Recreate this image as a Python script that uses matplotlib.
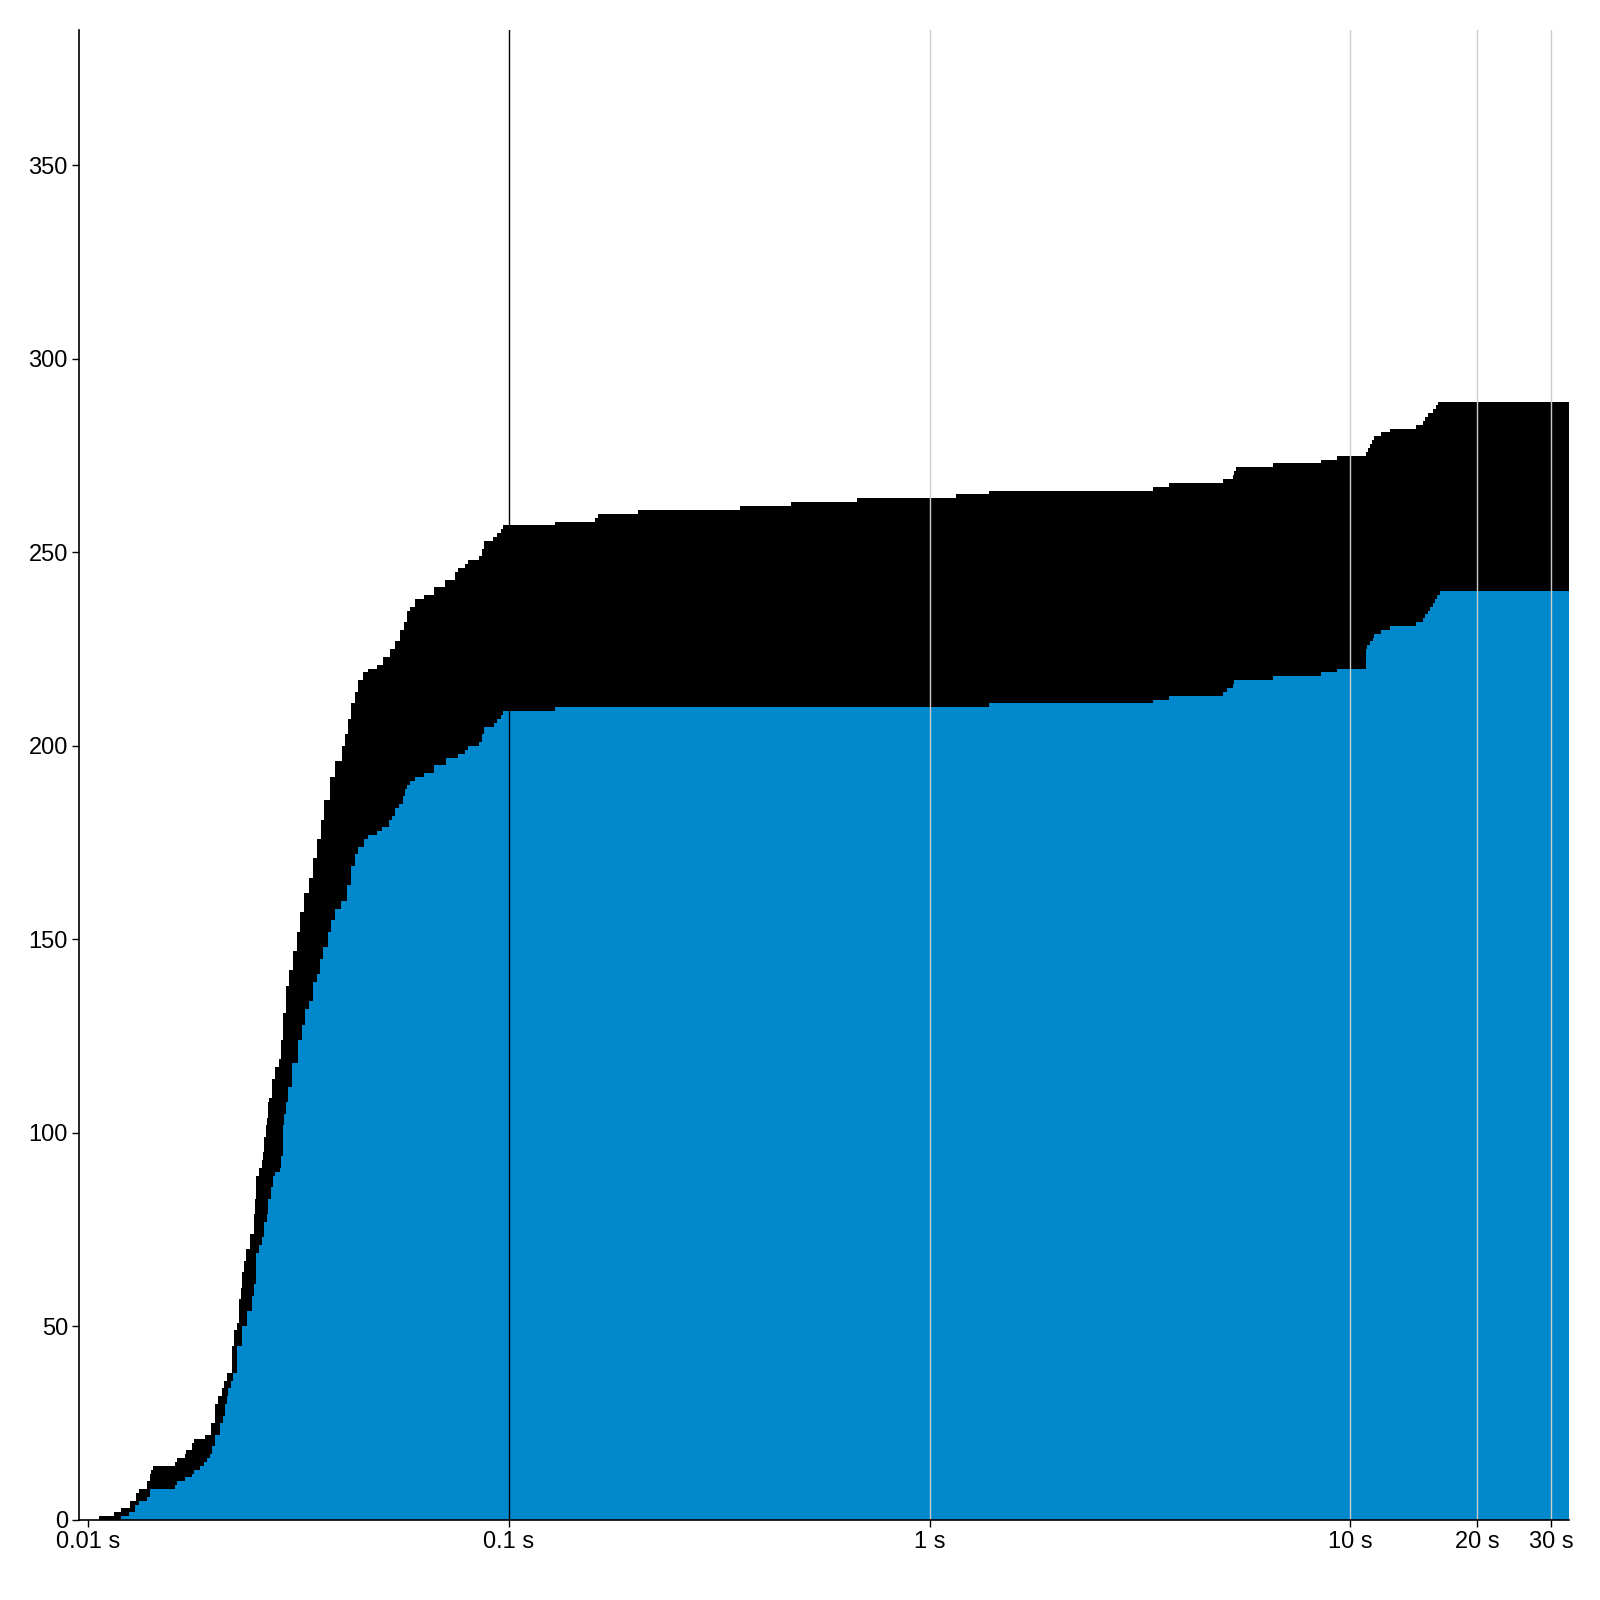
import matplotlib
matplotlib.use("Agg")
import matplotlib.pyplot as plt

# ----------------------------
# Data (cumulative solved count vs. time, step curves)
# ----------------------------
total_times = [
    0.0106, 0.0115, 0.0120, 0.0126, 0.0130, 0.0132, 0.0138, 0.0140, 0.0141, 0.0143,
    0.0161, 0.0163, 0.0170, 0.0171, 0.0177, 0.0179, 0.0190, 0.0196, 0.0200, 0.0204,
    0.0208, 0.0211, 0.0214, 0.0220, 0.0222, 0.0226, 0.0229, 0.0231, 0.0232, 0.0235,
    0.0237, 0.0243, 0.0248, 0.0249, 0.0251, 0.0255, 0.0259, 0.0261, 0.0262, 0.0265,
    0.0266, 0.0268, 0.0269, 0.0274, 0.0278, 0.0284, 0.0288, 0.0291, 0.0296, 0.0300,
    0.0307, 0.0314, 0.0319, 0.0326, 0.0335, 0.0343, 0.0350, 0.0358, 0.0364, 0.0376,
    0.0387, 0.0402, 0.0408, 0.0415, 0.0422, 0.0431, 0.0438, 0.0451, 0.0463, 0.0486,
    0.0503, 0.0522, 0.0537, 0.0552, 0.0564, 0.0573, 0.0583, 0.0599, 0.0629, 0.0664,
    0.0706, 0.0745, 0.0758, 0.0787, 0.0800, 0.0850, 0.0864, 0.0874, 0.0918, 0.0938,
    0.0959, 0.0969, 0.129, 0.160, 0.163, 0.203, 0.355, 0.469, 0.673, 1.157,
    1.386, 3.40, 3.71, 4.99, 5.27, 5.30, 5.36, 6.56, 8.53, 9.31,
    10.9, 11.03, 11.15, 11.27, 11.40, 11.84, 12.44, 14.35, 14.90, 15.07,
    15.32, 15.74, 16.00, 16.18, 33.1,
]
total_counts = [
    1, 2, 3, 5, 7, 8, 10, 12, 13, 14,
    15, 16, 17, 18, 20, 21, 22, 25, 30, 32,
    34, 36, 38, 45, 49, 51, 57, 60, 64, 67,
    70, 74, 79, 83, 89, 91, 93, 95, 99, 102,
    104, 108, 109, 114, 117, 119, 124, 131, 138, 142,
    147, 152, 157, 162, 166, 171, 176, 181, 186, 192,
    196, 200, 203, 207, 211, 214, 217, 219, 220, 221,
    223, 225, 227, 230, 232, 235, 236, 238, 239, 241,
    243, 245, 246, 247, 248, 249, 251, 253, 254, 255,
    256, 257, 258, 259, 260, 261, 262, 263, 264, 265,
    266, 267, 268, 269, 270, 271, 272, 273, 274, 275,
    276, 277, 278, 279, 280, 281, 282, 283, 284, 285,
    286, 287, 288, 289, 289,
]

blue_times = [
    0.0120, 0.0125, 0.0129, 0.0132, 0.0138, 0.0140, 0.0161, 0.0163, 0.0170, 0.0177,
    0.0179, 0.0185, 0.0189, 0.0192, 0.0195, 0.0197, 0.0200, 0.0206, 0.0209, 0.0212,
    0.0214, 0.0215, 0.0219, 0.0221, 0.0226, 0.0232, 0.0239, 0.0245, 0.0248, 0.0251,
    0.0255, 0.0259, 0.0262, 0.0266, 0.0268, 0.0272, 0.0275, 0.0278, 0.0286, 0.0288,
    0.0291, 0.0292, 0.0296, 0.0299, 0.0305, 0.0316, 0.0323, 0.0328, 0.0335, 0.0343,
    0.0350, 0.0356, 0.0362, 0.0372, 0.0378, 0.0387, 0.0399, 0.0413, 0.0422, 0.0431,
    0.0438, 0.0453, 0.0463, 0.0486, 0.0500, 0.0519, 0.0528, 0.0537, 0.0549, 0.0561,
    0.0567, 0.0573, 0.0583, 0.0599, 0.0629, 0.0664, 0.0710, 0.0758, 0.0787, 0.0800,
    0.0850, 0.0864, 0.0874, 0.0923, 0.0938, 0.0959, 0.0969, 0.129, 1.386, 3.40,
    3.71, 4.99, 5.10, 5.27, 5.30, 6.56, 8.53, 9.31, 10.9, 10.97,
    11.15, 11.33, 11.40, 11.84, 12.44, 14.35, 14.90, 15.07, 15.32, 15.48,
    15.74, 15.92, 16.09, 16.36, 33.1,
]
blue_counts = [
    1, 2, 4, 5, 6, 8, 9, 10, 11, 12,
    13, 14, 15, 16, 17, 19, 22, 25, 27, 30,
    32, 34, 36, 38, 45, 50, 54, 58, 61, 69,
    71, 73, 77, 79, 83, 86, 89, 90, 91, 94,
    102, 105, 108, 112, 118, 124, 128, 132, 134, 139,
    141, 145, 148, 152, 155, 158, 160, 164, 169, 172,
    174, 176, 177, 178, 179, 181, 182, 184, 185, 187,
    189, 190, 191, 192, 193, 195, 197, 198, 199, 200,
    201, 203, 205, 206, 207, 208, 209, 210, 211, 212,
    213, 214, 215, 216, 217, 218, 219, 220, 225, 226,
    227, 228, 229, 230, 231, 232, 233, 234, 235, 236,
    237, 238, 239, 240, 240,
]

x_ticks = [0.01, 0.1, 1, 10, 20, 30]
x_tick_labels = ["0.01 s", "0.1 s", "1 s", "10 s", "20 s", "30 s"]
y_ticks = [0, 50, 100, 150, 200, 250, 300, 350]

# ----------------------------
# Plot styling
# ----------------------------
plt.rcParams.update(
    {
        "font.family": ["Liberation Sans", "DejaVu Sans"],
        "font.size": 17,
        "xtick.labelsize": 17,
        "ytick.labelsize": 17,
    }
)

fig = plt.figure(figsize=(16, 16), dpi=100)
ax = fig.add_axes([0.0494, 0.05, 0.9312, 0.93125])

ax.fill_between(total_times, total_counts, step="post", color="black", linewidth=0, zorder=1)
ax.fill_between(blue_times, blue_counts, step="post", color="#0088cc", linewidth=0, zorder=2)

# vertical grid lines drawn over the areas
ax.axvline(0.1, color="black", linewidth=1.0, zorder=3)
for xv in [1, 10, 20, 30]:
    ax.axvline(xv, color="#cccccc", linewidth=1.0, zorder=3)

ax.set_xscale("log")
ax.set_xlim(0.00952, 33.1)
ax.set_ylim(0, 385)
ax.set_xticks(x_ticks)
ax.set_xticklabels(x_tick_labels)
ax.minorticks_off()
ax.set_yticks(y_ticks)

for side in ["top", "right"]:
    ax.spines[side].set_visible(False)
for side in ["left", "bottom"]:
    ax.spines[side].set_linewidth(1.2)
    ax.spines[side].set_zorder(4)
ax.tick_params(axis="both", length=5, width=1.0, pad=3)

fig.savefig("out.png", dpi=100)
